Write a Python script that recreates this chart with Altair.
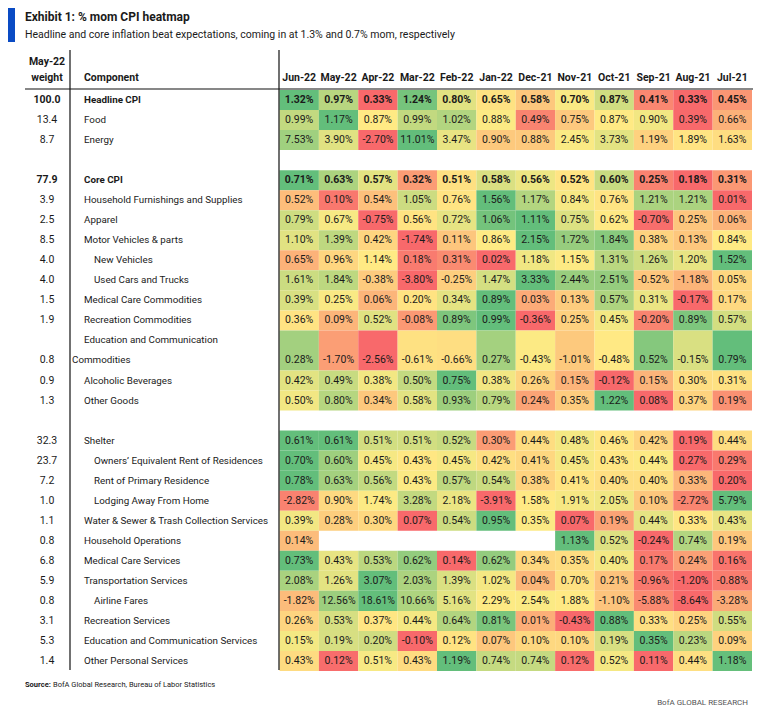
import altair as alt
import pandas as pd

# ---------------- data ----------------
months = ["Jun-22", "May-22", "Apr-22", "Mar-22", "Feb-22", "Jan-22",
          "Dec-21", "Nov-21", "Oct-21", "Sep-21", "Aug-21", "Jul-21"]

components = [
    "Headline CPI", "Food", "Energy",
    "Core CPI", "Household Furnishings and Supplies", "Apparel",
    "Motor Vehicles & parts", "New Vehicles", "Used Cars and Trucks",
    "Medical Care Commodities", "Recreation Commodities",
    "Education and Communication Commodities", "Alcoholic Beverages", "Other Goods",
    "Shelter", "Owners\u2019 Equivalent Rent of Residences", "Rent of Primary Residence",
    "Lodging Away From Home", "Water & Sewer & Trash Collection Services",
    "Household Operations", "Medical Care Services", "Transportation Services",
    "Airline Fares", "Recreation Services", "Education and Communication Services",
    "Other Personal Services",
]
weights = [100.0, 13.4, 8.7, 77.9, 3.9, 2.5, 8.5, 4.0, 4.0, 1.5, 1.9, 0.8, 0.9, 1.3,
           32.3, 23.7, 7.2, 1.0, 1.1, 0.8, 6.8, 5.9, 0.8, 3.1, 5.3, 1.4]

indented = ["New Vehicles", "Used Cars and Trucks", "Owners\u2019 Equivalent Rent of Residences",
            "Rent of Primary Residence", "Lodging Away From Home", "Airline Fares"]
bold_rows = ["Headline CPI", "Core CPI"]
gap_after = ["Energy", "Other Goods"]
wrapped = {"Education and Communication Commodities": ["Education and Communication", "Commodities"]}

headline = [1.32, 0.97, 0.33, 1.24, 0.80, 0.65, 0.58, 0.70, 0.87, 0.41, 0.33, 0.45]
food = [0.99, 1.17, 0.87, 0.99, 1.02, 0.88, 0.49, 0.75, 0.87, 0.90, 0.39, 0.66]
energy = [7.53, 3.90, -2.70, 11.01, 3.47, 0.90, 0.88, 2.45, 3.73, 1.19, 1.89, 1.63]
core = [0.71, 0.63, 0.57, 0.32, 0.51, 0.58, 0.56, 0.52, 0.60, 0.25, 0.18, 0.31]
furnishings = [0.52, 0.10, 0.54, 1.05, 0.76, 1.56, 1.17, 0.84, 0.76, 1.21, 1.21, 0.01]
apparel = [0.79, 0.67, -0.75, 0.56, 0.72, 1.06, 1.11, 0.75, 0.62, -0.70, 0.25, 0.06]
motor = [1.10, 1.39, 0.42, -1.74, 0.11, 0.86, 2.15, 1.72, 1.84, 0.38, 0.13, 0.84]
new_veh = [0.65, 0.96, 1.14, 0.18, 0.31, 0.02, 1.18, 1.15, 1.31, 1.26, 1.20, 1.52]
used_cars = [1.61, 1.84, -0.38, -3.80, -0.25, 1.47, 3.33, 2.44, 2.51, -0.52, -1.18, 0.05]
med_comm = [0.39, 0.25, 0.06, 0.20, 0.34, 0.89, 0.03, 0.13, 0.57, 0.31, -0.17, 0.17]
rec_comm = [0.36, 0.09, 0.52, -0.08, 0.89, 0.99, -0.36, 0.25, 0.45, -0.20, 0.89, 0.57]
edu_comm = [0.28, -1.70, -2.56, -0.61, -0.66, 0.27, -0.43, -1.01, -0.48, 0.52, -0.15, 0.79]
alcohol = [0.42, 0.49, 0.38, 0.50, 0.75, 0.38, 0.26, 0.15, -0.12, 0.15, 0.30, 0.31]
other_goods = [0.50, 0.80, 0.34, 0.58, 0.93, 0.79, 0.24, 0.35, 1.22, 0.08, 0.37, 0.19]
shelter = [0.61, 0.61, 0.51, 0.51, 0.52, 0.30, 0.44, 0.48, 0.46, 0.42, 0.19, 0.44]
oer = [0.70, 0.60, 0.45, 0.43, 0.45, 0.42, 0.41, 0.45, 0.43, 0.44, 0.27, 0.29]
rent = [0.78, 0.63, 0.56, 0.43, 0.57, 0.54, 0.38, 0.41, 0.40, 0.40, 0.33, 0.20]
lodging = [-2.82, 0.90, 1.74, 3.28, 2.18, -3.91, 1.58, 1.91, 2.05, 0.10, -2.72, 5.79]
water = [0.39, 0.28, 0.30, 0.07, 0.54, 0.95, 0.35, 0.07, 0.19, 0.44, 0.33, 0.43]
hh_ops = [0.14, None, None, None, None, None, None, 1.13, 0.52, -0.24, 0.74, 0.19]
med_serv = [0.73, 0.43, 0.53, 0.62, 0.14, 0.62, 0.34, 0.35, 0.40, 0.17, 0.24, 0.16]
transp = [2.08, 1.26, 3.07, 2.03, 1.39, 1.02, 0.04, 0.70, 0.21, -0.96, -1.20, -0.88]
airline = [-1.82, 12.56, 18.61, 10.66, 5.16, 2.29, 2.54, 1.88, -1.10, -5.88, -8.64, -3.28]
rec_serv = [0.26, 0.53, 0.37, 0.44, 0.64, 0.81, 0.01, -0.43, 0.88, 0.33, 0.25, 0.55]
edu_serv = [0.15, 0.19, 0.20, -0.10, 0.12, 0.07, 0.10, 0.10, 0.19, 0.35, 0.23, 0.09]
other_pers = [0.43, 0.12, 0.51, 0.43, 1.19, 0.74, 0.74, 0.12, 0.52, 0.11, 0.44, 1.18]

row_values = [headline, food, energy, core, furnishings, apparel, motor, new_veh, used_cars,
              med_comm, rec_comm, edu_comm, alcohol, other_goods, shelter, oer, rent, lodging,
              water, hh_ops, med_serv, transp, airline, rec_serv, edu_serv, other_pers]

title = "Exhibit 1: % mom CPI heatmap"
subtitle = "Headline and core inflation beat expectations, coming in at 1.3% and 0.7% mom, respectively"
source_label = "Source:"
source_text = "BofA Global Research, Bureau of Labor Statistics"
brand = "BofA GLOBAL RESEARCH"

# ---------------- build tables ----------------
cells, labels, wts = [], [], []
u = 0
for comp, w, vals in zip(components, weights, row_values):
    lines = wrapped.get(comp, [comp])
    span = len(lines)
    present = pd.Series([v for v in vals if v is not None])
    lo, med, hi = present.min(), present.median(), present.max()
    bold = comp in bold_rows
    for j, v in enumerate(vals):
        if v is None:
            continue
        if v <= med:
            t = 0.5 * (v - lo) / (med - lo) if med > lo else 0.5
        else:
            t = 0.5 + 0.5 * (v - med) / (hi - med)
        cells.append({"comp": comp, "c0": j, "c1": j + 1, "cx": j + 0.5,
                      "y0": u, "y1": u + span, "yt": u + span - 0.5,
                      "t": t, "label": f"{v:.2f}%", "bold": bold})
    for k, line in enumerate(lines):
        level = "wrap" if k > 0 else ("indent" if comp in indented else "main")
        labels.append({"text": line, "y": u + k + 0.5, "level": level, "bold": bold})
    wts.append({"text": f"{w:.1f}", "y": u + span - 0.5, "bold": bold})
    u += span
    if comp in gap_after:
        u += 1
n_units = u

cells_df = pd.DataFrame(cells)
labels_df = pd.DataFrame(labels)
wts_df = pd.DataFrame(wts)
months_df = pd.DataFrame({"m": months, "cx": [i + 0.5 for i in range(len(months))]})

FONT = "Roboto"
TXT = "#1a1a1a"
FS = 10.5   # cell / header text size
LFS = 9.8   # component label size

xs = alt.Scale(domain=[0, len(months)], range=[271.5, 744])
ys = alt.Scale(domain=[0, n_units], range=[82, 663])

heat = alt.Chart(cells_df).mark_rect().encode(
    x=alt.X("c0:Q", scale=xs, axis=None),
    x2="c1:Q",
    y=alt.Y("y0:Q", scale=ys, axis=None),
    y2="y1:Q",
    color=alt.Color("t:Q", legend=None,
                    scale=alt.Scale(domain=[0, 0.5, 1],
                                    range=["#F8696B", "#FFEB84", "#63BE7B"],
                                    interpolate="rgb")),
)

def cell_text(bold):
    return alt.Chart(cells_df).transform_filter(
        alt.datum.bold if bold else ~alt.datum.bold
    ).mark_text(font=FONT, fontSize=FS, fontWeight="bold" if bold else "normal",
                color=TXT, align="center", baseline="middle").encode(
        x=alt.X("cx:Q", scale=xs, axis=None),
        y=alt.Y("yt:Q", scale=ys, axis=None),
        text="label:N",
    )

label_x = {"main": 76, "indent": 86, "wrap": 64}
label_layers = []
for lvl, px in label_x.items():
    for bold in (True, False):
        label_layers.append(
            alt.Chart(labels_df).transform_filter(
                (alt.datum.level == lvl) & (alt.datum.bold if bold else ~alt.datum.bold)
            ).mark_text(font=FONT, fontSize=LFS, fontWeight="bold" if bold else "normal",
                        color=TXT, align="left", baseline="middle").encode(
                x=alt.value(px),
                y=alt.Y("y:Q", scale=ys, axis=None),
                text="text:N",
            )
        )

weight_layers = []
for bold in (True, False):
    weight_layers.append(
        alt.Chart(wts_df).transform_filter(
            alt.datum.bold if bold else ~alt.datum.bold
        ).mark_text(font=FONT, fontSize=FS, fontWeight="bold" if bold else "normal",
                    color=TXT, align="center", baseline="middle").encode(
            x=alt.value(39),
            y=alt.Y("y:Q", scale=ys, axis=None),
            text="text:N",
        )
    )

month_hdr = alt.Chart(months_df).mark_text(
    font=FONT, fontSize=FS, fontWeight="bold", color=TXT, align="center", baseline="middle"
).encode(x=alt.X("cx:Q", scale=xs, axis=None), y=alt.value(70), text="m:N")


def note(text, x, y, size, weight="normal", color=TXT, align="left", baseline="middle"):
    return alt.Chart(pd.DataFrame({"t": [text]})).mark_text(
        font=FONT, fontSize=size, fontWeight=weight, color=color, align=align, baseline=baseline
    ).encode(x=alt.value(x), y=alt.value(y), text="t:N")


hdr = [
    note("May-22", 39, 54, FS, "bold", align="center"),
    note("weight", 39, 70, FS, "bold", align="center"),
    note("Component", 76, 70, FS, "bold"),
    note(title, 17, 13, 12, "bold", baseline="alphabetic"),
    note(subtitle, 17, 29.5, 10.5, baseline="alphabetic"),
    note(source_label, 17, 677, 7.5, "bold"),
    note(source_text, 45, 677, 7.5),
    note(brand, 740, 695, 8, color="#555555", align="right"),
]

one = pd.DataFrame({"k": [0]})
blue_bar = alt.Chart(one).mark_rect(color="#0A4BC4").encode(
    x=alt.value(0), x2=alt.value(7), y=alt.value(0), y2=alt.value(34))
vline1 = alt.Chart(one).mark_rule(color="#111111", strokeWidth=1.2).encode(
    x=alt.value(62), y=alt.value(42), y2=alt.value(662))
vline2 = alt.Chart(one).mark_rule(color="#111111", strokeWidth=1.2).encode(
    x=alt.value(271), y=alt.value(42), y2=alt.value(662))
hline = alt.Chart(one).mark_rule(color="#111111", strokeWidth=1.2).encode(
    x=alt.value(17), x2=alt.value(745), y=alt.value(81))

chart = alt.layer(
    heat, cell_text(True), cell_text(False), *label_layers, *weight_layers, month_hdr,
    *hdr, blue_bar, vline1, vline2, hline
).properties(
    width=751, height=705, padding=0,
    autosize=alt.AutoSizeParams(type="none"),
    background="white",
).configure_view(strokeWidth=0)

chart.save("out.html", embed_options={"renderer": "svg", "actions": False})
